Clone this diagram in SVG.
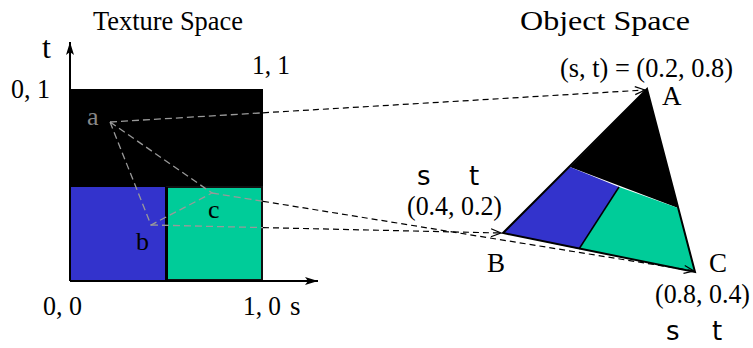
<svg xmlns="http://www.w3.org/2000/svg" width="753" height="348" viewBox="0 0 753 348">
<style>
  .t{font-family:"Liberation Serif","Times New Roman",serif;font-size:27px;fill:#000}
  .g{fill:#888}
  .hand{font-family:"DejaVu Sans","Liberation Sans",sans-serif;font-size:26px;fill:#000}
  .dg{stroke:#999;stroke-width:1.3;stroke-dasharray:7,4;fill:none}
  .dk{stroke:#000;stroke-width:1.2;stroke-dasharray:6,4;fill:none}
</style>
<defs>
  <marker id="open" markerWidth="12" markerHeight="10" refX="11" refY="5" orient="auto" markerUnits="userSpaceOnUse">
    <path d="M1,1 L11,5 L1,9" fill="none" stroke="#000" stroke-width="1.2"/>
  </marker>
  <marker id="solid" markerWidth="14" markerHeight="10" refX="13" refY="5" orient="auto" markerUnits="userSpaceOnUse">
    <path d="M0,1 L13,5 L0,9 L3,5 Z" fill="#000"/>
  </marker>
</defs>
<rect width="753" height="348" fill="#fff"/>

<text class="t" x="93" y="30" textLength="150" lengthAdjust="spacingAndGlyphs">Texture Space</text>
<text class="t" x="520" y="30" textLength="170" lengthAdjust="spacingAndGlyphs">Object Space</text>

<g id="texture">
  <rect x="71" y="89" width="192" height="98" fill="#000"/>
  <rect x="71" y="187" width="96" height="93" fill="#3333CC"/>
  <rect x="167" y="187" width="95" height="93" fill="#00CC99" stroke="#111" stroke-width="2"/>
  <line x1="166.5" y1="187" x2="166.5" y2="281" stroke="#000" stroke-width="3"/>
  <line x1="70" y1="281" x2="70" y2="42" stroke="#000" stroke-width="2" marker-end="url(#solid)"/>
  <line x1="70" y1="281" x2="318" y2="281" stroke="#000" stroke-width="2" marker-end="url(#solid)"/>
  <text class="t" x="42" y="58" style="font-size:32px">t</text>
  <text class="t" x="11" y="98" textLength="39" lengthAdjust="spacingAndGlyphs">0, 1</text>
  <text class="t" x="252" y="74" textLength="38" lengthAdjust="spacingAndGlyphs">1, 1</text>
  <text class="t" x="43" y="315" textLength="39" lengthAdjust="spacingAndGlyphs">0, 0</text>
  <text class="t" x="243" y="315" textLength="38" lengthAdjust="spacingAndGlyphs">1, 0</text>
  <text class="t" x="290" y="315">s</text>
  <text class="t g" x="87" y="125" style="font-size:26px">a</text>
  <text class="t" x="136" y="250" style="font-size:26px">b</text>
  <text class="t" x="208" y="218" style="font-size:26px">c</text>
  <path class="dg" d="M110,122 L151,225 L212,193 Z"/>
</g>

<g id="object">
  <polygon points="647,89 570,167 678,208" fill="#000"/>
  <polygon points="570,167 619,187 579,249 503,233" fill="#3333CC"/>
  <polygon points="619,187 678,208 695,272 579,249" fill="#00CC99"/>
  <line x1="619" y1="187" x2="579" y2="249" stroke="#000" stroke-width="1.5"/>
  <polygon points="647,89 503,233 695,272" fill="none" stroke="#000" stroke-width="2" stroke-linejoin="miter"/>
  <text class="t" x="560" y="77" textLength="173" lengthAdjust="spacingAndGlyphs">(s, t) = (0.2, 0.8)</text>
  <text class="t" x="662" y="105">A</text>
  <text class="t" x="407" y="215" textLength="95" lengthAdjust="spacingAndGlyphs">(0.4, 0.2)</text>
  <text class="t" x="487" y="272">B</text>
  <text class="t" x="709" y="272">C</text>
  <text class="t" x="655" y="303" textLength="95" lengthAdjust="spacingAndGlyphs">(0.8, 0.4)</text>
  <text class="hand" x="417" y="185">s</text>
  <text class="hand" x="469" y="185">t</text>
  <text class="hand" x="666" y="340">s</text>
  <text class="hand" x="712" y="340">t</text>
</g>

<g id="connectors">
  <line class="dg" x1="110" y1="122" x2="263" y2="112.8"/>
  <line class="dk" x1="263" y1="112.8" x2="645" y2="90" marker-end="url(#open)"/>
  <line class="dg" x1="212" y1="193" x2="263" y2="201.3"/>
  <line class="dk" x1="263" y1="201.3" x2="694" y2="271" marker-end="url(#open)"/>
  <line class="dg" x1="151" y1="225" x2="263" y2="227.6"/>
  <line class="dk" x1="263" y1="227.6" x2="501" y2="233" marker-end="url(#open)"/>
</g>
</svg>
